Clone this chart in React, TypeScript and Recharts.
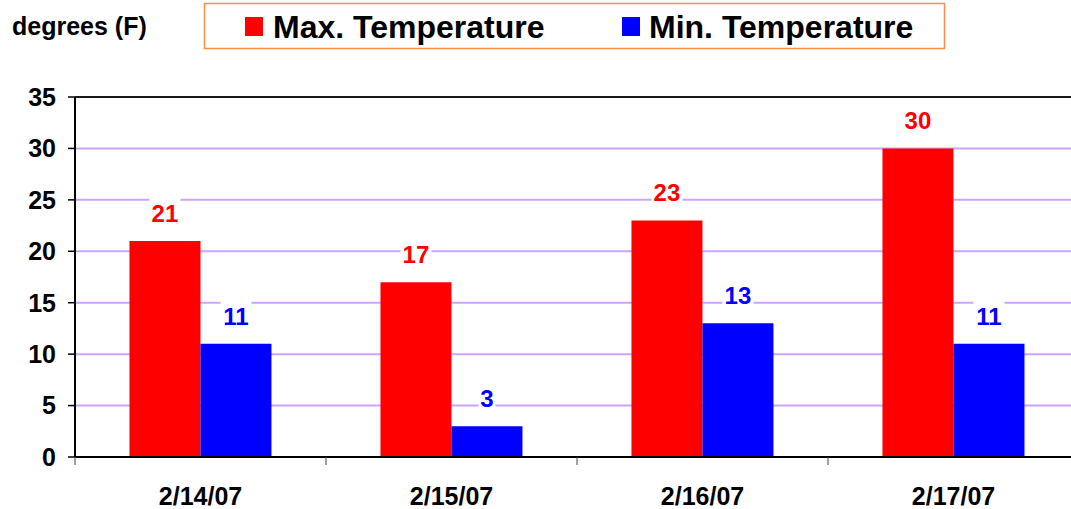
import React from 'react';
import { BarChart, Bar, XAxis, YAxis, CartesianGrid, ReferenceLine, LabelList } from 'recharts';

const categories = ['2/14/07', '2/15/07', '2/16/07', '2/17/07'];
const maxTemps = [21, 17, 23, 30];
const minTemps = [11, 3, 13, 11];
const yTicks = [0, 5, 10, 15, 20, 25, 30, 35];
const seriesNames = ['Max. Temperature', 'Min. Temperature'];
const seriesColors = ['#FF0000', '#0000FF'];
const yAxisTitle = 'degrees (F)';

const data = categories.map((c, i) => ({ date: c, max: maxTemps[i], min: minTemps[i] }));

const FONT = '"Liberation Sans", Arial, sans-serif';

const makeLabel = (color: string) => (props: any) => {
  const x = Number(props.x);
  const y = Number(props.y);
  const width = Number(props.width);
  const value = props.value;
  const cx = x + width / 2;
  const base = y - 19;
  const w = String(value).length * 14 + 3;
  return (
    <g>
      <rect x={cx - w / 2} y={base - 24} width={w} height={26} fill="#ffffff" />
      <text x={cx} y={base} textAnchor="middle" fill={color} fontSize={24} fontWeight="bold" fontFamily={FONT}>
        {value}
      </text>
    </g>
  );
};

const YTick = (props: any) => {
  const { x, y, payload } = props;
  return (
    <text x={x} y={y} dy="0.355em" textAnchor="end" fill="#000" fontSize={25} fontWeight="bold" fontFamily={FONT}>
      {payload.value}
    </text>
  );
};

const XTick = (props: any) => {
  const { x, y, payload } = props;
  const off = payload.offset || 0;
  return (
    <g>
      <line x1={x - off} y1={y} x2={x - off} y2={y + 8} stroke="#444" strokeWidth={1} />
      <text x={x} y={y + 48} textAnchor="middle" fill="#000" fontSize={25} fontWeight="bold" fontFamily={FONT}>
        {payload.value}
      </text>
    </g>
  );
};

export default function App() {
  return (
    <div style={{ position: 'absolute', left: 0, top: 0, width: 1071, height: 509, overflow: 'hidden', background: '#fff' }}>
      <BarChart
        width={1100}
        height={509}
        data={data}
        margin={{ top: 97, right: 21, bottom: 0, left: 0 }}
        barCategoryGap="21.7%"
        barGap={0}
      >
        <CartesianGrid vertical={false} stroke="#cca3ff" strokeWidth={2} />
        <XAxis
          dataKey="date"
          height={52}
          tickSize={0}
          tickMargin={0}
          tickLine={false}
          axisLine={{ stroke: '#000', strokeWidth: 2 }}
          tick={<XTick />}
          interval={0}
        />
        <YAxis
          width={75}
          domain={[0, 35]}
          ticks={yTicks}
          interval={0}
          tickSize={7}
          tickMargin={12}
          tickLine={{ stroke: '#000', strokeWidth: 1.5 }}
          axisLine={{ stroke: '#000', strokeWidth: 2 }}
          tick={<YTick />}
        />
        <ReferenceLine y={35} stroke="#1a1a1a" strokeWidth={2} />
        <Bar dataKey="max" name={seriesNames[0]} fill={seriesColors[0]} isAnimationActive={false}>
          <LabelList dataKey="max" content={makeLabel(seriesColors[0])} />
        </Bar>
        <Bar dataKey="min" name={seriesNames[1]} fill={seriesColors[1]} isAnimationActive={false}>
          <LabelList dataKey="min" content={makeLabel(seriesColors[1])} />
        </Bar>
      </BarChart>
      <svg width={1071} height={60} style={{ position: 'absolute', left: 0, top: 0 }}>
        <text x={12} y={35} fontSize={25} fontWeight="bold" fontFamily={FONT} fill="#000">
          {yAxisTitle}
        </text>
        <rect x={204.5} y={3.5} width={740} height={45} fill="#fff" stroke="#FF8A4A" strokeWidth={1.5} />
        <rect x={245} y={17} width={18} height={19} fill={seriesColors[0]} />
        <text x={273} y={38} fontSize={32} fontWeight="bold" fontFamily={FONT} fill="#000">
          {seriesNames[0]}
        </text>
        <rect x={622} y={17} width={18} height={19} fill={seriesColors[1]} />
        <text x={649} y={38} fontSize={32} fontWeight="bold" fontFamily={FONT} fill="#000">
          {seriesNames[1]}
        </text>
      </svg>
    </div>
  );
}
